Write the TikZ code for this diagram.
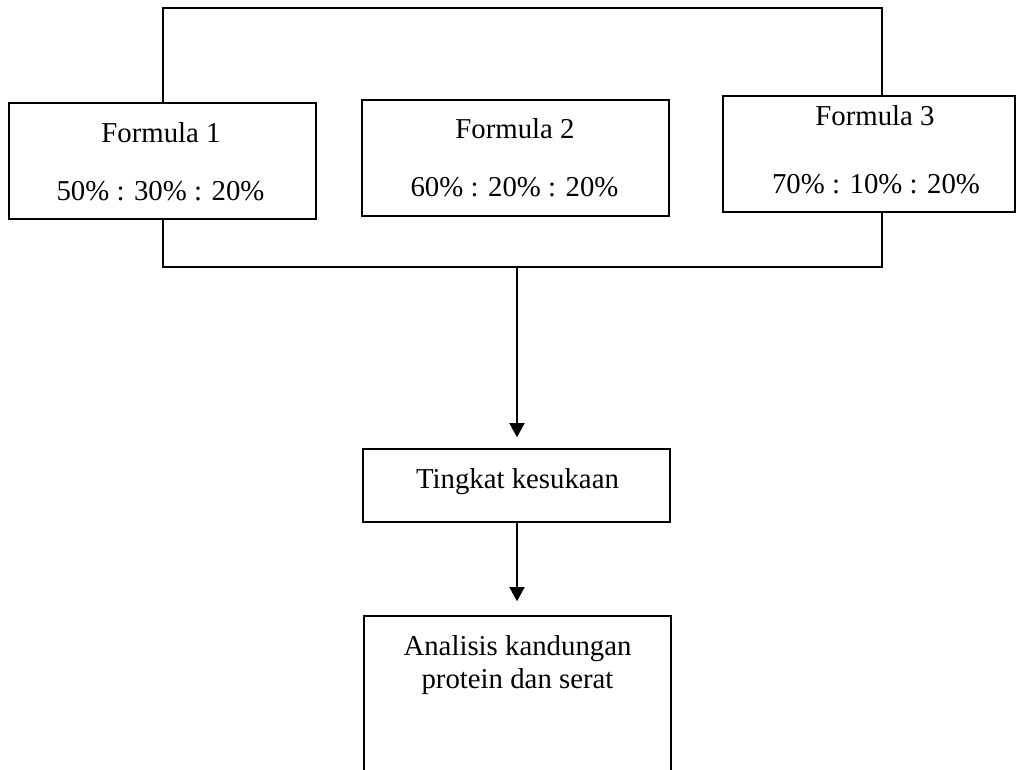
\documentclass[tikz,border=0pt]{standalone}
\usepackage{fontspec}
\setmainfont{Liberation Serif}
\usetikzlibrary{arrows.meta}
\begin{document}
\begin{tikzpicture}[x=1pt,y=-1pt,
  box/.style={draw, line width=1.6pt, rectangle, inner sep=0pt},
  txt/.style={anchor=base, inner sep=0pt, font=\fontsize{28.8}{34}\selectfont},
  conn/.style={line width=1.6pt},
  flow/.style={line width=1.6pt, -{Triangle[length=14pt,width=15pt]}}]
\useasboundingbox (0,0) rectangle (1018,769);
\clip (0,0) rectangle (1018,769);

% three formula boxes
\node[box, minimum width=307pt, minimum height=116pt] (f1) at (162.5,161) {};
\node[box, minimum width=307pt, minimum height=116pt] (f2) at (515.5,158) {};
\node[box, minimum width=292pt, minimum height=116pt] (f3) at (869,154) {};

\node[txt] (f1a) at (161,142.5) {Formula 1};
\node[txt] (f1b) at (160.5,200) {50\% : 30\% : 20\%};
\node[txt] (f2a) at (515,138) {Formula 2};
\node[txt] (f2b) at (514.5,196) {60\% : 20\% : 20\%};
\node[txt] (f3a) at (875,125) {Formula 3};
\node[txt] (f3b) at (876,193) {70\% : 10\% : 20\%};

% result boxes
\node[box, minimum width=307pt, minimum height=73pt] (tk) at (516.5,485.5) {};
\node[txt] (tkt) at (517.5,488) {Tingkat kesukaan};
\node[box, minimum width=307pt, minimum height=184pt] (an) at (517.5,708) {};
\node[txt] (ana) at (517.5,655) {Analisis kandungan};
\node[txt] (anb) at (517.5,688) {protein dan serat};

% brackets joining formula 1 and formula 3
\coordinate (tl) at (163,8);
\coordinate (tr) at (882,8);
\coordinate (bl) at (163,267);
\coordinate (br) at (882,267);
\coordinate (bm) at (517,267);
\draw[conn] (tl |- f1.north) -- (tl) -- (tr) -- (tr |- f3.north);
\draw[conn] (bl |- f1.south) -- (bl) -- (br) -- (br |- f3.south);

% flow arrows
\draw[flow, shorten >=11pt] (bm) -- (bm |- tk.north);
\draw[flow, shorten >=14pt] (bm |- tk.south) -- (bm |- an.north);
\end{tikzpicture}
\end{document}
